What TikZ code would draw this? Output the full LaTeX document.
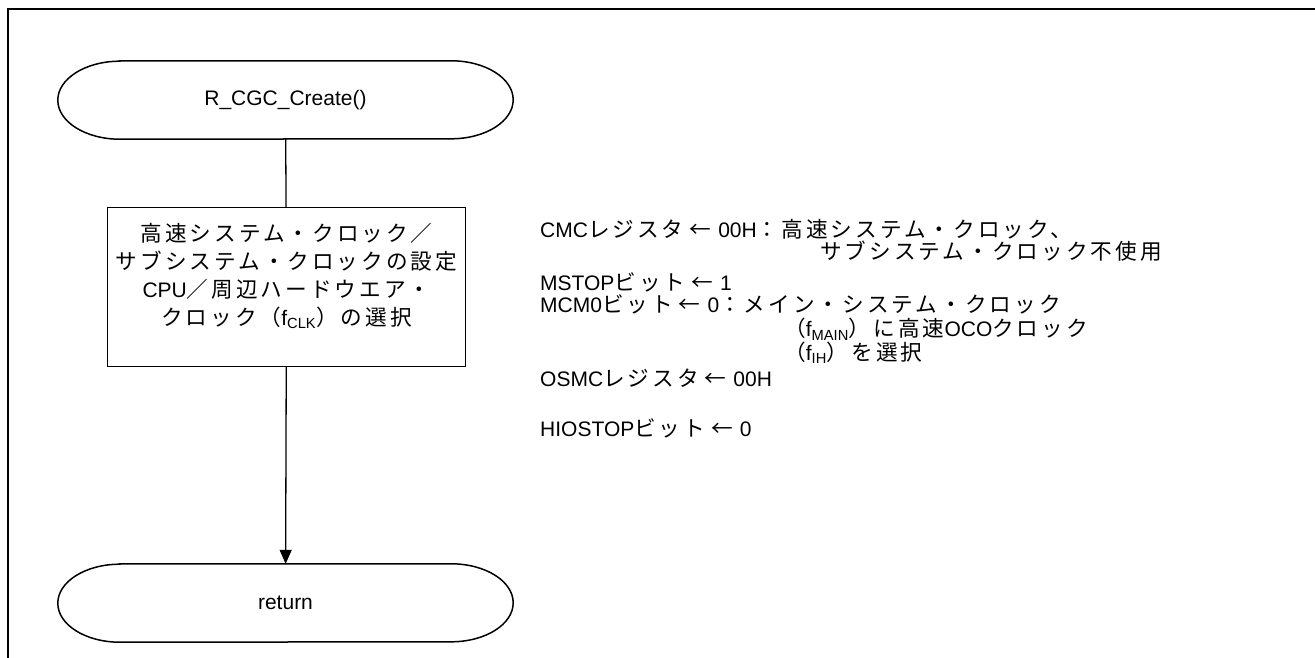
\documentclass[tikz,border=0pt]{standalone}
\usepackage{fontspec}
\setmainfont{Liberation Sans}
\newfontfamily\jpfont[LetterSpace=14,Scale=1.03]{Noto Sans CJK JP}
\newcommand\J[1]{{\jpfont #1}}
\newcommand\la{\hspace{6pt}\J{←}\hspace{7pt}}
\usetikzlibrary{arrows.meta}
\tikzset{
  term/.style={minimum width=455pt, minimum height=78pt, inner sep=0pt, font=\fontsize{21}{24}\selectfont},
  procbox/.style={draw, line width=1.3pt, minimum width=358pt, minimum height=159pt, inner sep=0pt},
  boxtext/.style={align=center, inner sep=0pt, font=\fontsize{21}{28}\selectfont},
  note/.style={anchor=base west, inner sep=0pt},
  conn/.style={line width=1.3pt},
  outline/.style={line width=1.5pt}
}
\newcommand\termshape[1]{%
  \draw[outline] ([xshift=62pt]#1.north west) -- ([xshift=-62pt]#1.north east)
    arc[start angle=90,end angle=-90,x radius=62pt,y radius=39pt]
    -- ([xshift=62pt]#1.south west)
    arc[start angle=270,end angle=90,x radius=62pt,y radius=39pt] -- cycle;}
\begin{document}
\begin{tikzpicture}[x=1pt,y=1pt,font=\fontsize{21}{24}\selectfont]
\clip (0,0) rectangle (1315,657);
\fill[white] (0,0) rectangle (1315,657);
\draw[line width=2.4pt] (8,-20) -- (8,648) -- (1340,648);

\node[term] (start) at (285.5,557) {R\_CGC\_Create()};
\termshape{start}
\node[procbox] (box) at (286.5,370) {};
\node[boxtext] (boxt) at ([yshift=11pt]box.center) {\J{高速システム・クロック／}\\
\J{サブシステム・クロックの設定}\\
CPU\J{／周辺ハードウエア・}\\
\J{クロック（}f\textsubscript{CLK}\J{）の選択}};
\node[term] (ret) at (285.5,54) {return};
\termshape{ret}

\draw[conn] (start) -- (box);
\draw[conn,-{Triangle[length=14pt,width=12pt]}] (box) -- (ret);

\node[note] (t1) at (540,419) {CMC\J{レジスタ}\la 00H\J{：高速システム・クロック、}};
\node[note] (t2) at (820,397) {\J{サブシステム・クロック不使用}};
\node[note] (t3) at (540,366) {MSTOP\J{ビット}\la 1};
\node[note] (t4) at (540,344) {MCM0\J{ビット}\la 0\J{：メイン・システム・クロック}};
\node[note] (t5) at (784,320) {\J{（}f\textsubscript{MAIN}\J{）に高速}OCO\J{クロック}};
\node[note] (t6) at (784,297) {\J{（}f\textsubscript{IH}\J{）を選択}};
\node[note] (t7) at (540,271) {OSMC\J{レジスタ}\la 00H};
\node[note] (t8) at (540,221) {HIOSTOP\J{ビット}\la 0};
\end{tikzpicture}
\end{document}
